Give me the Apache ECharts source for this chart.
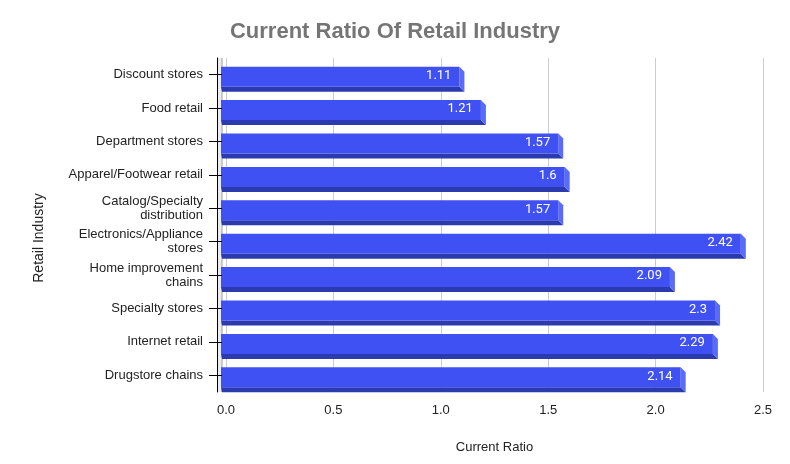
<!DOCTYPE html>
<html>
<head>
<meta charset="utf-8">
<script src="https://cdn.jsdelivr.net/npm/echarts@6/dist/echarts.min.js"></script>
<style>
  html, body { margin: 0; padding: 0; background: #fff; }
  #chart { width: 790px; height: 464px; }
</style>
</head>
<body>
<div id="chart"></div>
<script>
// Current ratio per retail segment
const industries = [
    'Discount stores',
    'Food retail',
    'Department stores',
    'Apparel/Footwear retail',
    'Catalog/Specialty\ndistribution',
    'Electronics/Appliance\nstores',
    'Home improvement\nchains',
    'Specialty stores',
    'Internet retail',
    'Drugstore chains'
];
const ratios = [1.11, 1.21, 1.57, 1.6, 1.57, 2.42, 2.09, 2.3, 2.29, 2.14];
const ratioTicks = [0, 0.5, 1, 1.5, 2, 2.5];

// Couleurs des faces de la barre 3D
const faceColor = '#3f51f2';
const bottomColor = '#2b3aae';
const sideColor = '#5a6cf5';
const depth = 5;
const font = 'Liberation Sans, Arial, sans-serif';

function renderBar(params, api) {
    const cat = api.value(0);
    const val = api.value(1);
    const p0 = api.coord([0, cat]);
    const p1 = api.coord([val, cat]);
    const band = api.size([0, 1])[1];
    const x0 = p0[0] - depth;
    const x1 = p1[0] - depth;
    const cy = p0[1];
    const top = cy - 8;
    const bot = cy + 12;
    return {
        type: 'group',
        children: [
            // petit mur gris du repère 3D
            {
                type: 'rect',
                shape: { x: p0[0] - 8.5, y: cy - band / 2, width: 4.5, height: band },
                style: { fill: '#ececec' },
                z2: 0
            },
            {
                type: 'line',
                shape: { x1: p0[0] - 4, y1: cy - band / 2, x2: p0[0] - 4, y2: cy + band / 2 },
                style: { stroke: '#9e9e9e', lineWidth: 1 },
                z2: 1
            },
            {
                type: 'polygon',
                shape: { points: [[x0, bot], [x1, bot], [x1 + depth, bot + depth], [x0 + 1, bot + depth]] },
                style: { fill: bottomColor },
                z2: 2
            },
            {
                type: 'polygon',
                shape: { points: [[x1, top], [x1 + depth, top + depth], [x1 + depth, bot + depth], [x1, bot]] },
                style: { fill: sideColor },
                z2: 2
            },
            {
                type: 'rect',
                shape: { x: x0, y: top, width: x1 - x0, height: bot - top },
                style: { fill: faceColor },
                z2: 3
            },
            {
                type: 'text',
                style: {
                    x: x1 - 8,
                    y: cy + 1,
                    text: String(val),
                    fill: '#ffffff',
                    fontSize: 13,
                    fontFamily: 'Roboto, sans-serif',
                    align: 'right',
                    verticalAlign: 'middle'
                },
                z2: 4
            }
        ]
    };
}

const chart = echarts.init(document.getElementById('chart'));
chart.setOption({
    backgroundColor: '#ffffff',
    animation: false,
    title: {
        text: 'Current Ratio Of Retail Industry',
        left: 'center',
        top: 16,
        textStyle: {
            color: '#757575',
            fontSize: 22,
            fontWeight: 'bold',
            fontFamily: font
        }
    },
    grid: {
        left: 226,
        right: 27,
        top: 58,
        bottom: 72,
        containLabel: false
    },
    xAxis: {
        type: 'value',
        min: ratioTicks[0],
        max: ratioTicks[ratioTicks.length - 1],
        interval: 0.5,
        name: 'Current Ratio',
        nameLocation: 'middle',
        nameGap: 49,
        nameTextStyle: {
            color: '#222',
            fontSize: 13,
            fontFamily: font
        },
        axisLine: { show: false },
        axisTick: { show: false },
        axisLabel: {
            color: '#222',
            fontSize: 13,
            margin: 12,
            fontFamily: font,
            formatter: function(value) {
                return value.toFixed(1);
            }
        },
        splitLine: {
            lineStyle: { color: '#cccccc', width: 1 }
        }
    },
    yAxis: [
        {
            type: 'category',
            data: industries,
            inverse: true,
            offset: 9,
            z: 10,
            name: 'Retail Industry',
            nameLocation: 'middle',
            nameGap: 171,
            nameTextStyle: {
                color: '#222',
                fontSize: 14,
                fontFamily: font,
                padding: [0, 26, 0, 0]
            },
            axisLine: { show: true, onZero: false, lineStyle: { color: '#000', width: 1 } },
            axisTick: { show: true, alignWithLabel: true, length: 8, lineStyle: { color: '#000' } },
            axisLabel: {
                color: '#222',
                fontSize: 13,
                margin: 14,
                lineHeight: 14,
                align: 'right',
                fontFamily: font
            },
            splitLine: { show: false }
        },
        {
            type: 'category',
            data: industries,
            inverse: true,
            offset: 9,
            z: 10,
            position: 'left',
            axisLine: { show: false, onZero: false },
            axisTick: { show: true, inside: true, alignWithLabel: true, length: 5, lineStyle: { color: '#000' } },
            axisLabel: { show: false },
            splitLine: { show: false }
        }
    ],
    series: [{
        type: 'custom',
        renderItem: renderBar,
        yAxisIndex: 0,
        encode: { x: 1, y: 0 },
        data: ratios.map((r, i) => [i, r]),
        z: 2
    }]
});
</script>
</body>
</html>
